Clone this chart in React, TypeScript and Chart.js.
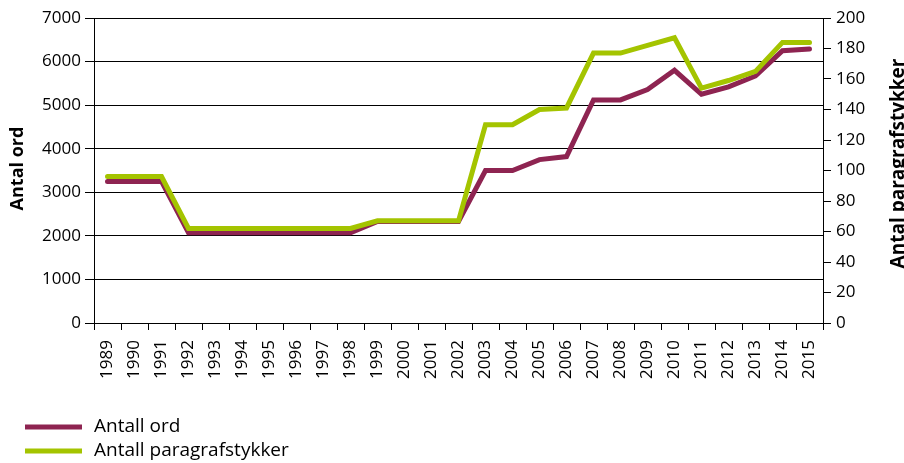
import React, { useEffect, useRef } from "react";
import { Chart, registerables } from "chart.js";

Chart.register(...registerables);

const years = [
  "1989", "1990", "1991", "1992", "1993", "1994", "1995", "1996", "1997",
  "1998", "1999", "2000", "2001", "2002", "2003", "2004", "2005", "2006",
  "2007", "2008", "2009", "2010", "2011", "2012", "2013", "2014", "2015",
];

const antallOrd = [
  3250, 3250, 3250, 2070, 2070, 2070, 2070, 2070, 2070,
  2070, 2330, 2330, 2330, 2330, 3500, 3500, 3750, 3820,
  5120, 5120, 5360, 5800, 5250, 5420, 5670, 6250, 6290,
];

const antallParagrafstykker = [
  96, 96, 96, 62, 62, 62, 62, 62, 62,
  62, 67, 67, 67, 67, 130, 130, 140, 141,
  177, 177, 182, 187, 154, 159, 165, 184, 184,
];

const leftTitle = "Antal ord";
const rightTitle = "Antal paragrafstykker";
const labelOrd = "Antall ord";
const labelPar = "Antall paragrafstykker";

const MAROON = "#8e2451";
const GREEN = "#a4c400";
const FONT = "'Open Sans', sans-serif";

const extrasPlugin = {
  id: "extras",
  afterDraw(chart: any) {
    const ctx = chart.ctx;
    const ca = chart.chartArea;
    const cy = (ca.top + ca.bottom) / 2;
    ctx.save();
    ctx.fillStyle = "#000";
    ctx.textAlign = "center";
    ctx.textBaseline = "middle";
    // left title
    ctx.font = `bold 18px ${FONT}`;
    ctx.save();
    ctx.translate(18, cy - 2);
    ctx.rotate(-Math.PI / 2);
    ctx.fillText(leftTitle, 0, 0);
    ctx.restore();
    // right title
    ctx.font = `bold 19px ${FONT}`;
    ctx.save();
    ctx.translate(chart.width - 5, cy - 7);
    ctx.rotate(-Math.PI / 2);
    ctx.fillText(rightTitle, 0, 0);
    ctx.restore();
    // legend
    ctx.font = `19px ${FONT}`;
    ctx.textAlign = "left";
    const ds = chart.data.datasets;
    const items = [ds[0], ds[1]];
    items.forEach((d: any, i: number) => {
      const y = 427 + i * 24;
      ctx.strokeStyle = d.borderColor;
      ctx.lineWidth = 5;
      ctx.beginPath();
      ctx.moveTo(25, y);
      ctx.lineTo(82, y);
      ctx.stroke();
      ctx.fillText(d.label, 94, y);
    });
    ctx.restore();
  },
};

export default function App() {
  const ref = useRef<HTMLCanvasElement | null>(null);
  useEffect(() => {
    if (!ref.current) return;
    const tickFont = { family: FONT, size: 17 };
    const chart = new Chart(ref.current, {
      type: "line",
      data: {
        labels: years,
        datasets: [
          {
            label: labelOrd,
            data: antallOrd,
            borderColor: MAROON,
            backgroundColor: MAROON,
            borderWidth: 5,
            pointRadius: 0,
            tension: 0,
            yAxisID: "y",
            order: 2,
            borderCapStyle: "round",
          },
          {
            label: labelPar,
            data: antallParagrafstykker,
            borderColor: GREEN,
            backgroundColor: GREEN,
            borderWidth: 5,
            pointRadius: 0,
            tension: 0,
            yAxisID: "y1",
            order: 1,
            borderCapStyle: "round",
          },
        ],
      },
      options: {
        animation: false,
        responsive: false,
        maintainAspectRatio: false,
        layout: { padding: { top: 18, right: 0, bottom: 0, left: 0 } },
        plugins: {
          legend: { display: false },
          tooltip: { enabled: false },
        },
        scales: {
          x: {
            type: "category",
            offset: true,
            grid: {
              display: true,
              drawOnChartArea: false,
              offset: true,
              tickLength: 7,
              color: "#000",
            },
            border: { color: "#000" },
            ticks: {
              minRotation: 90,
              maxRotation: 90,
              autoSkip: false,
              padding: 10,
              color: "#000",
              font: tickFont,
            },
            afterFit: (s: any) => {
              s.height = 140;
            },
          },
          y: {
            position: "left",
            min: 0,
            max: 7000,
            ticks: {
              stepSize: 1000,
              color: "#000",
              font: tickFont,
              padding: 4,
              callback: (v: any) => String(v),
            },
            grid: { color: "#000", tickLength: 9 },
            border: { color: "#000" },
            afterFit: (s: any) => {
              s.width = 94;
            },
          },
          y1: {
            position: "right",
            min: 0,
            max: 200,
            ticks: {
              stepSize: 20,
              color: "#000",
              font: tickFont,
              padding: 5,
              callback: (v: any) => String(v),
            },
            grid: { drawOnChartArea: false, color: "#000", tickLength: 8 },
            border: { color: "#000" },
            afterFit: (s: any) => {
              s.width = 81;
            },
          },
        },
      },
      plugins: [extrasPlugin],
    });
    return () => chart.destroy();
  }, []);
  return (
    <div style={{ position: "absolute", left: 0, top: 0, width: 904, height: 463, background: "#fff" }}>
      <canvas ref={ref} width={904} height={463} style={{ display: "block", width: 904, height: 463 }} />
    </div>
  );
}
